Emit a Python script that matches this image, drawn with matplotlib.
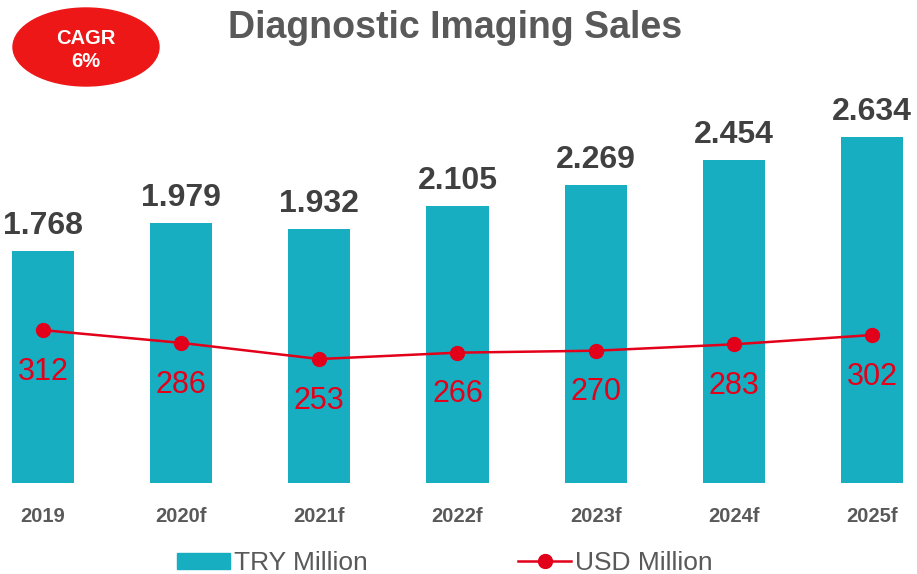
import numpy as np
import matplotlib.pyplot as plt
from matplotlib.patches import Ellipse

years = ["2019", "2020f", "2021f", "2022f", "2023f", "2024f", "2025f"]
try_million = [1768, 1979, 1932, 2105, 2269, 2454, 2634]
try_labels = ["1.768", "1.979", "1.932", "2.105", "2.269", "2.454", "2.634"]
usd_million = [312, 286, 253, 266, 270, 283, 302]

BAR_COLOR = "#17AEC2"
LINE_COLOR = "#E2001A"
GRAY = "#595959"

W, H = 917, 574
fig = plt.figure(figsize=(W / 100, H / 100), dpi=100)
plt.rcParams["font.family"] = ["Liberation Sans", "DejaVu Sans"]

# axes placed in pixel terms: baseline at y=483, top at y=100
base_px, top_px = 483, 100
ax = fig.add_axes([0, (H - base_px) / H, 1, (base_px - top_px) / H])
x = np.arange(len(years))
ax.bar(x, try_million, width=0.45, color=BAR_COLOR, zorder=2)
ax.set_xlim(-43 / 138, 6 + 45 / 138)
ax.set_ylim(0, (base_px - top_px) / 0.1315)
for xi, v, lab in zip(x, try_million, try_labels):
    ax.annotate(lab, (xi, v), xytext=(0, 18), textcoords="offset points",
                ha="center", va="center", fontsize=23, fontweight="bold", color="#404040")

ax2 = ax.twinx()
ax2.set_ylim(0, (base_px - top_px) / 0.49)
ax2.plot(x, usd_million, color=LINE_COLOR, lw=1.8, marker="o", ms=10, zorder=3)
for xi, v in zip(x, usd_million):
    ax2.annotate(str(v), (xi, v), xytext=(0, -30), textcoords="offset points",
                 ha="center", va="center", fontsize=22, color=LINE_COLOR)

for a in (ax, ax2):
    for s in a.spines.values():
        s.set_visible(False)
    a.set_yticks([])
ax.set_xticks(x)
ax.set_xticklabels(years, fontsize=14.5, fontweight="bold", color=GRAY)
ax.tick_params(axis="x", length=0, pad=17)

fig.text(455 / W, 1 - 28 / H, "Diagnostic Imaging Sales", ha="center", va="center",
         fontsize=27, fontweight="bold", color=GRAY)

badge = Ellipse((86 / W, 1 - 47 / H), 146 / W, 78 / H, transform=fig.transFigure,
                color="#ED1717", zorder=5)
fig.patches.append(badge)
fig.text(86 / W, 1 - 50 / H, "CAGR\n6%", ha="center", va="center", fontsize=14.5,
         fontweight="bold", color="white", linespacing=1.3, zorder=6)

handles = [plt.Rectangle((0, 0), 1, 1, color=BAR_COLOR),
           plt.Line2D([], [], color=LINE_COLOR, lw=1.8, marker="o", ms=10)]
fig.legend(handles, ["TRY Million", "USD Million"], loc="center",
           bbox_to_anchor=(445 / W, 1 - 563 / H), ncol=2, frameon=False,
           fontsize=19, labelcolor=GRAY, columnspacing=5.7, handlelength=2.0,
           handletextpad=0.15, handleheight=0.55)

fig.savefig("out.png", dpi=100)
